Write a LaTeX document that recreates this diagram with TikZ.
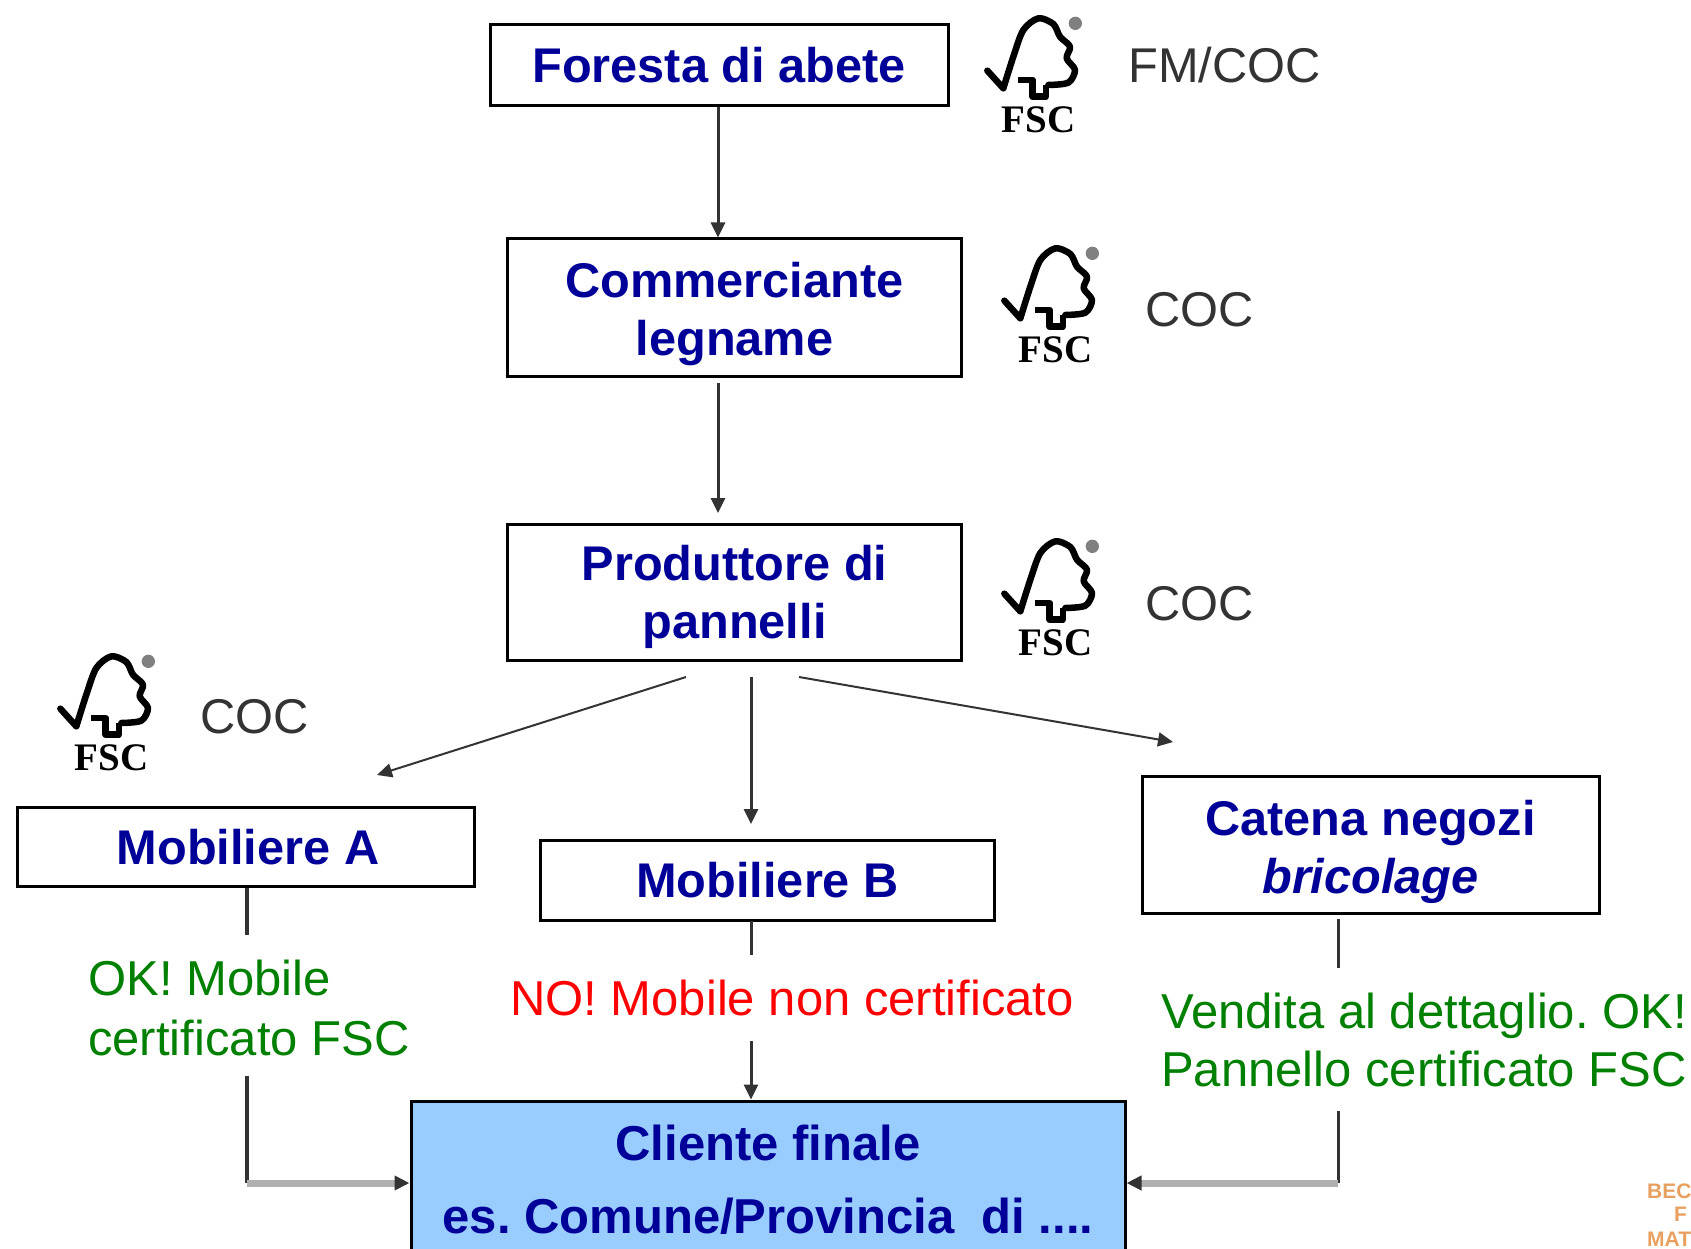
\documentclass[tikz,border=0pt]{standalone}
\usepackage{fontspec}
\setmainfont{Liberation Sans}
\newfontfamily\fscserif{Liberation Serif}
\usetikzlibrary{arrows.meta}
\definecolor{boxblue}{HTML}{000099}
\definecolor{okgreen}{HTML}{008000}
\definecolor{nored}{HTML}{FF0000}
\definecolor{lineg}{HTML}{333333}
\definecolor{liteg}{HTML}{B0B0B0}
\definecolor{cocg}{HTML}{333333}
\definecolor{skyb}{HTML}{99CCFF}
\definecolor{wmark}{HTML}{E8A060}
\tikzset{
  boxnode/.style={draw=black,line width=3pt,fill=white,inner sep=0pt,align=center,text=boxblue,
    font=\fontsize{48.7}{58}\selectfont\bfseries},
  coclabel/.style={inner sep=0pt,text=cocg,font=\fontsize{48.8}{58}\selectfont,anchor=west},
  oklabel/.style={inner sep=0pt,text=okgreen,font=\fontsize{49}{57.5}\selectfont,align=left,anchor=west},
  nolabel/.style={inner sep=0pt,text=nored,font=\fontsize{49}{58}\selectfont,anchor=west},
  wmarklabel/.style={inner sep=0pt,text=wmark,font=\fontsize{21}{24}\selectfont\bfseries,anchor=west},
  tipped/.style={-{Triangle[length=15pt,width=14pt,fill=lineg,color=lineg]}},
  flow/.style={draw=lineg,line width=3pt,tipped},
  thinflow/.style={draw=lineg,line width=2pt,tipped},
  plainseg/.style={draw=lineg,line width=4pt},
  graybar/.style={draw=liteg,line width=7pt,tipped},
  pics/fsc/.style={code={
    \begin{scope}[x=0.3333pt,y=-0.3333pt]
      \draw[line width=6.5pt,line join=round,line cap=round,black]
        (82,212) -- (130,265) plot[smooth] coordinates {(130,265) (160,170) (190,90) (235,55) (280,72) (300,110) (330,140) (320,175) (345,210) (325,248) (265,255)};
      \draw[line width=6.5pt,line join=round,black]
        (175,240) -- (218,240) -- (218,290) -- (258,290) -- (258,255);
      \fill[gray] (346,70) circle (20);
      \node[inner sep=0pt,font=\fontsize{39}{39}\selectfont\fscserif\bfseries] (-mark) at (235,360) {FSC};
    \end{scope}
  }}
}
\begin{document}
\frenchspacing
\begin{tikzpicture}[x=1pt,y=-1pt]
\useasboundingbox (0,0) rectangle (1691,1249);
\clip (0,0) rectangle (1691,1249);

% boxes
\node[boxnode,minimum width=458pt,minimum height=81pt] (foresta) at (719,65) {Foresta di abete};
\node[boxnode,minimum width=454pt,minimum height=137pt] (comm) at (734.5,307.5) {\rule{0pt}{48pt}Commerciante\\legname};
\node[boxnode,minimum width=454pt,minimum height=136pt] (prod) at (734.5,592) {\rule{0pt}{46pt}Produttore di\\pannelli};
\node[boxnode,minimum width=457pt,minimum height=79pt] (moba) at (245.5,847) {\hspace*{5pt}Mobiliere A};
\node[boxnode,minimum width=454pt,minimum height=80pt] (mobb) at (767.5,880.5) {Mobiliere B};
\node[boxnode,minimum width=457pt,minimum height=137pt] (catena) at (1370.5,845) {\rule{0pt}{49pt}Catena negozi\\\textit{bricolage}};
\node[boxnode,fill=skyb,minimum width=714pt,minimum height=158pt,font=\fontsize{49}{73}\selectfont\bfseries] (cliente) at (768,1180) {Cliente finale\\es. Comune/Provincia\ \ di ....};

% logos and certificate labels
\pic (logoa) at (960,0) {fsc};
\pic (logob) at (977,230) {fsc};
\pic (logoc) at (977,523) {fsc};
\pic (logod) at (33,638) {fsc};
\node[coclabel] (fmcoc) at (1128,65) {FM/COC};
\node[coclabel] (cocb) at (1145,310) {COC};
\node[coclabel] (cocc) at (1145,604) {COC};
\node[coclabel] (cocd) at (200,717) {COC};

% status labels
\node[oklabel,font=\fontsize{49}{60}\selectfont] (oka) at (88,1008) {OK! Mobile\\certificato FSC};
\node[nolabel] (nob) at (510,998) {NO! Mobile non certificato};
\node[oklabel] (okc) at (1161,1040) {Vendita al dettaglio. OK!\\Pannello certificato FSC};

% watermark
\node[wmarklabel] (wma) at (1647,1191) {BEC};
\node[wmarklabel] (wmb) at (1674,1214) {F};
\node[wmarklabel] (wmc) at (1647,1239) {MAT};

% connector ends
\coordinate (cprodtop) at (718,513);
\coordinate (ccommbot) at (718,383);
\coordinate (cpa) at (686,677);
\coordinate (cpb) at (751,677);
\coordinate (cpc) at (799,677);
\coordinate (cma) at (377,775);
\coordinate (cmb) at (751,824);
\coordinate (cmc) at (1173,742);
\coordinate (abreak) at (247,935);
\coordinate (aresume) at (247,1076);
\coordinate (acorner) at (247,1183);
\coordinate (bstart) at (751,921);
\coordinate (bbreak) at (751,955);
\coordinate (bresume) at (751,1041);
\coordinate (cstart) at (1338,919);
\coordinate (cbreak) at (1338,968);
\coordinate (cresume) at (1338,1111);
\coordinate (ccorner) at (1338,1183);

% connectors
\draw[flow] (ccommbot |- foresta.south) -- (ccommbot |- comm.north);
\draw[flow] (ccommbot) -- (cprodtop);
\draw[thinflow] (cpa) -- (cma);
\draw[flow] (cpb) -- (cmb);
\draw[thinflow] (cpc) -- (cmc);
\draw[plainseg] (moba.south -| abreak) -- (abreak);
\draw[plainseg] (aresume) -- (acorner);
\draw[graybar] (acorner) -- (acorner -| cliente.west);
\draw[plainseg,line width=3pt] (bstart) -- (bbreak);
\draw[flow] (bresume) -- (bresume |- cliente.north);
\draw[plainseg,line width=3pt] (cstart) -- (cbreak);
\draw[plainseg,line width=3pt] (cresume) -- (ccorner);
\draw[graybar] (ccorner) -- (ccorner -| cliente.east);
\end{tikzpicture}
\end{document}
